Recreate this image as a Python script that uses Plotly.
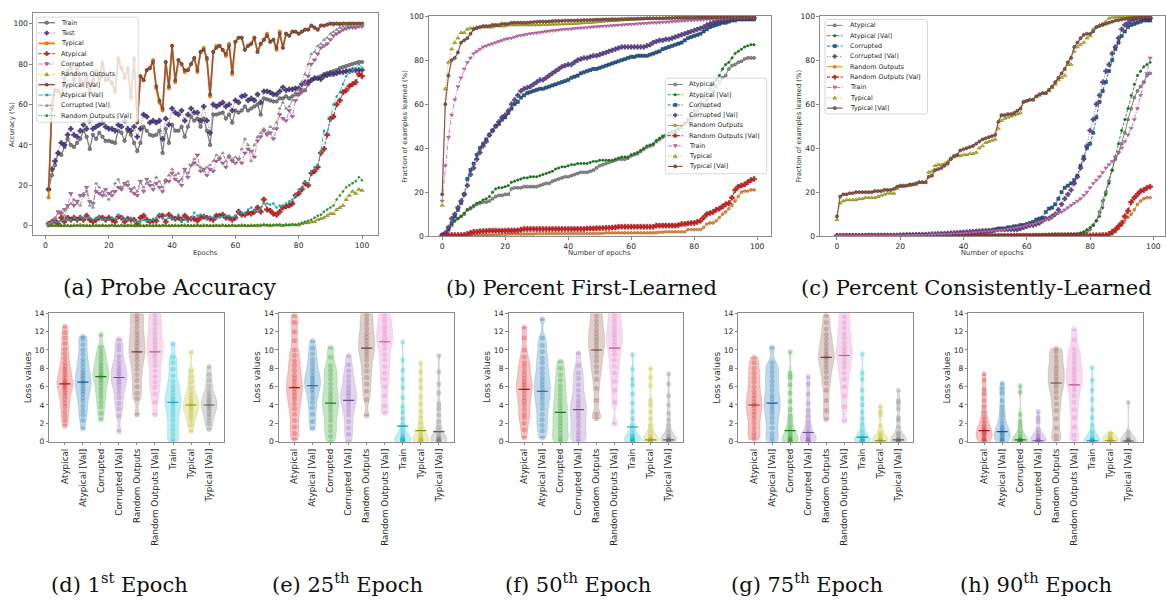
import plotly.graph_objects as go

W, H = 1166, 603

# ---------------- (a) Probe accuracy data (epochs 1..100) ----------------
epochs_a = list(range(1, 101))
train_a = [18, 25, 30, 36, 35, 39, 43, 40, 39, 41,
           43, 47, 44, 38, 45, 43, 46, 44, 42, 42,
           41.5, 41, 47, 46, 42, 47, 45, 41, 37, 41,
           49, 47, 45, 44.5, 45, 47, 36, 48, 41, 50,
           47, 47, 49, 44, 49, 54, 52, 53, 49, 53,
           47, 40, 55, 55, 55.5, 56, 53, 55, 51, 57,
           56, 57, 59, 57, 58, 59, 60, 55, 63, 62.5,
           62, 61.5, 61.5, 63, 63, 64, 63, 64, 65, 65,
           67, 67, 70, 72, 73, 73, 74, 75, 75.5, 76,
           76.5, 77, 78, 78.5, 79, 79.5, 80, 80.5, 81, 81]
test_a = [18, 28, 32, 36, 41, 40, 45, 48, 45, 44,
          47, 50, 48, 52, 48, 49, 50, 51, 49, 48,
          48, 47, 50, 49, 52, 48, 47, 49, 44, 48,
          55, 54, 51, 52, 51, 52, 43, 53, 50, 58,
          56, 55, 57, 52, 55, 58, 56, 56, 52, 59,
          52, 46, 60, 59, 60, 61, 59, 60, 57, 62,
          61, 64, 64.5, 62, 63, 62, 65, 61, 66.5, 66.5,
          66, 65, 65, 66.5, 68.5, 67, 67.5, 67.5, 68, 68,
          70, 71, 71, 72, 73, 73, 72.5, 74, 74.5, 75,
          75, 75.5, 76, 76, 76.5, 76.5, 77, 77, 77, 77]
typical_a = [14, 60, 67, 66, 65, 72, 77, 78, 73, 79,
             71, 69, 73, 66, 71, 77, 72, 81, 73, 72,
             70, 66, 83, 78, 74, 77, 63, 83, 52, 74,
             72, 77, 78, 82, 68, 61, 57, 81, 68, 89,
             71, 82, 80, 76, 77, 80, 83, 76, 86, 88,
             82, 64, 86, 89, 89, 87, 84, 90, 75, 91,
             93, 93, 87, 89, 90, 93, 86, 90, 92, 95,
             91, 92, 87, 96, 88, 95, 94, 96, 96, 95,
             96, 97, 97, 99, 98, 97, 99, 99, 99.5, 100,
             99.5, 100, 99.5, 100, 99.8, 100, 100, 100, 100, 100]
atypical_a = [1, 2, 2.5, 1, 4, 2, 4, 3, 4, 3,
              4, 3, 5, 3, 2, 3, 4, 4, 3, 4,
              3, 2, 4.5, 4, 2, 3.5, 3, 3, 1, 4,
              5, 3, 2, 2.5, 2.5, 5, 5, 2, 5.5, 4,
              3.5, 4, 3, 5, 3.5, 3.5, 3.5, 2.5, 4, 4.5,
              4, 3.5, 3, 5, 5, 5.5, 4, 4, 3, 4,
              7, 5.5, 5.5, 6.5, 6, 7, 9, 7, 13, 8,
              7.5, 6, 5.5, 7, 9, 9.5, 10, 11, 15, 16,
              18, 21, 20, 26, 27, 29, 36, 38, 45, 53,
              54, 60, 62, 66, 67, 69, 70, 71, 75, 74]
corrupted_a = [1, 1, 3, 7, 6, 8, 10, 16, 10, 12,
               15, 15, 19, 12, 11, 17, 16, 15, 18, 16,
               15, 17, 19, 18, 21, 20, 18, 16, 15, 22,
               17, 23, 20, 18, 21, 19, 17, 22, 22, 26,
               23, 22, 20, 28, 24, 30, 31, 35, 27, 28,
               25, 28, 27, 32, 33, 31, 29, 34, 32, 31,
               33, 31, 36, 38, 37, 34, 42, 44, 47, 45,
               46, 43, 48, 55, 53, 52, 57, 54, 62, 65,
               66, 70, 74, 80, 82, 85, 88, 89, 90, 92,
               94, 95, 96, 97, 97.5, 98, 98, 98, 98.5, 98.5]
random_a = [0, 0, 0.3, 0, 0, 0.2, 0, 0, 0.3, 0,
            0.5, 0, 0.2, 0, 0, 0.3, 0, 0.2, 0, 0,
            0.3, 0, 0, 0.2, 0, 0, 0.4, 0, 0, 0.2,
            0, 0, 0.3, 0, 0.2, 0, 0, 0.3, 0, 0,
            0.2, 0, 0, 0.3, 0, 0, 0.2, 0, 0, 0.3,
            0, 0, 0.2, 0, 0, 0.3, 0, 0, 0.2, 0,
            0, 0.3, 0, 0, 0.2, 0, 0, 0.3, 0.5, 0.2,
            0, 0.3, 0.4, 0.2, 0, 0.5, 0.3, 0.5, 0.5, 0.3,
            1, 1.5, 1.5, 2, 2, 3, 3.5, 4, 5, 6,
            6, 8, 9, 10, 13, 15, 17, 16, 18, 17.5]
typical_val_a = [18, 58, 67, 67, 64, 73, 76, 79, 72, 80,
                 72, 70, 74, 65, 72, 76, 73, 80, 72, 73,
                 71, 67, 82, 78, 73, 78, 64, 82, 51, 74,
                 72, 77, 78, 81, 69, 62, 58, 81, 69, 89,
                 72, 82, 80, 77, 77, 80, 83, 77, 86, 87,
                 83, 65, 86, 88, 89, 87, 85, 89, 76, 91,
                 93, 93, 87, 89, 90, 93, 86, 90, 92, 94,
                 91, 92, 88, 95, 88, 95, 94, 96, 96, 95,
                 96, 97, 97, 99, 98, 97, 99, 99, 99.5, 100,
                 100, 100, 100, 100, 100, 100, 100, 100, 100, 100]
atypical_val_a = [1, 1.5, 2, 2, 2.5, 3, 3.5, 3, 4, 3,
                  4.5, 3.5, 4, 4, 3, 3.5, 4, 3, 3.5, 3,
                  4, 3.5, 5.5, 4, 3.5, 3, 3.5, 2.5, 2, 2,
                  3, 2.5, 2.5, 3, 4, 5.5, 3.5, 5, 4, 3.5,
                  3.5, 5.5, 2, 3, 2, 3.5, 6.5, 5, 5.5, 5,
                  3.5, 4.5, 4, 3.5, 4.5, 4.5, 5, 5, 4, 5,
                  7, 6.5, 6, 8, 9, 7.5, 7, 9, 11, 11,
                  10.5, 11, 9, 10, 10, 11, 12, 13, 15, 18,
                  19, 22, 21, 27, 29, 30, 37, 47, 46, 52,
                  60, 64, 66, 70, 74, 76, 77, 78, 80, 78]
corrupted_val_a = [1, 2, 4, 6, 7, 5, 9, 11, 13, 11,
                   10, 16, 17, 10, 9, 21, 19, 17, 15, 13,
                   17, 21, 23, 19, 20, 22, 17, 19, 17, 22,
                   19, 21, 22, 20, 24, 22, 19, 23, 25, 28,
                   25, 26, 23, 27, 26, 30, 33, 30, 29, 27,
                   29, 30, 32, 35, 34, 36, 32, 35, 33, 34,
                   33, 38, 43, 40, 32, 40, 44, 46, 48, 46,
                   49, 48, 51, 58, 61, 58, 59, 62, 66, 67,
                   71, 75, 80, 85, 86, 89, 90, 92, 93, 95,
                   96, 97, 98, 98.5, 99, 99, 99, 99, 99, 99]
random_val_a = [0, 0.2, 0, 0.3, 0, 0, 0.2, 0, 0, 0.4,
                0, 0.2, 0, 0, 0.3, 0, 0, 0.2, 0, 0,
                0.3, 0, 0, 0.2, 0, 0.3, 0, 0, 0.2, 0,
                0, 0.3, 0, 0, 0.2, 0, 0.3, 0, 0, 0.2,
                0, 0, 0.3, 0, 0.2, 0, 0, 0.3, 0, 0,
                0.2, 0, 0, 0.3, 0, 0.2, 0, 0, 0.3, 0,
                0.2, 0, 0.3, 0, 0, 0.2, 0.4, 0, 0.5, 0.3,
                0.5, 0.3, 0.5, 0.6, 0.4, 0.5, 0.5, 0.8, 0.5, 1,
                1.5, 2, 2.5, 3, 4, 5, 5.5, 7, 8, 9,
                10, 13, 15, 17, 19, 20, 21, 22, 24, 22.5]

# ---------------- (b) Percent first-learned (epochs 0..99) ----------------
epochs_bc = list(range(0, 100))
atypical_b = [0.5, 1, 3, 5, 7, 8, 9, 10, 12, 12.5,
              13.5, 14.5, 15, 15.5, 15.5, 16, 17, 18, 18.5, 18.5,
              19, 19, 21.5, 22, 22, 22, 22.5, 22.5, 22.5, 22.5,
              22.5, 23, 23.5, 24, 24, 25, 25.5, 26, 26.5, 27,
              27, 27.5, 28, 28.5, 29, 29, 29, 29.5, 30, 31,
              32, 32.5, 33, 33.5, 34, 34.5, 35, 35, 35, 35.5,
              36.5, 37, 37.5, 38.5, 39.5, 40.5, 41, 41.5, 43, 44,
              45, 45.5, 46.5, 47, 47.5, 48.5, 49.5, 51, 52, 53.5,
              55, 57, 58.5, 60, 62, 64, 66, 68, 70, 72,
              73, 76, 77.5, 78, 79, 79.5, 80.5, 81, 81, 81]
atypical_val_b = [0.5, 1.5, 3.5, 5.5, 7, 8, 9, 10.5, 12, 13,
                  14, 15, 15.5, 16.5, 17, 18, 20, 21.5, 22, 22,
                  22.5, 23, 24.5, 25, 25.5, 26, 26.5, 26.5, 27, 27,
                  27, 27.5, 28, 28.5, 29, 29.5, 30.5, 31, 31.5, 31.5,
                  32, 32.5, 32.5, 33, 33, 33, 33, 33.5, 34, 34,
                  34.5, 34.5, 34.5, 34.5, 34.5, 35, 35.5, 36, 36, 36,
                  37, 37.5, 38, 39, 40, 41, 41.5, 42, 43.5, 44.5,
                  45.5, 46, 47, 47.5, 48, 49, 50, 51.5, 53, 55,
                  57, 59, 61, 63, 65, 67, 69, 71, 73, 76,
                  78, 79, 81, 83, 84, 85, 86, 86.5, 87, 87]
corrupted_b = [0.5, 1, 3, 6, 9, 12, 15, 19, 26, 30,
               33, 37, 40, 42, 44, 46, 48, 50, 51, 53,
               54, 56, 58, 60, 61, 63, 64, 65, 65.5, 66,
               66.5, 67, 67, 67.5, 68, 68.5, 69, 69.5, 70, 70.5,
               71, 72, 72.5, 73, 74, 74.5, 75, 75.5, 76, 76,
               76.5, 77, 77.5, 78, 78.5, 79, 79.5, 80, 80.5, 81,
               81.5, 81.5, 82, 82, 82, 82, 82.5, 83, 83.5, 84,
               85, 85.5, 86, 86.5, 87, 87.5, 88, 89, 90, 90.5,
               91, 91.5, 92, 93, 94, 95, 95.5, 96, 96.5, 97,
               97, 97.5, 98, 98, 98.5, 98.5, 98.5, 98.5, 98.5, 98.5]
corrupted_val_b = [0.5, 1.5, 4, 8, 10, 13, 16, 19, 23, 28,
                   31, 35, 38, 41, 43, 46, 48, 50, 52, 54,
                   55, 57, 60, 62, 64, 66, 67, 67.5, 68, 69,
                   70, 71, 71, 72, 73, 74, 75, 76, 77, 77.5,
                   78, 78, 79, 80, 80.5, 81, 81, 81.5, 82, 82,
                   82.5, 83, 83.5, 84, 84.5, 85, 85.5, 86, 86, 86,
                   86, 86, 86, 86, 86, 86.5, 87, 88, 88.5, 89,
                   89, 89.5, 89.5, 90, 90.5, 91, 91.5, 92, 92.5, 93,
                   93.5, 94, 94.5, 95, 96, 96.5, 97, 97.5, 98, 98,
                   98.5, 98.5, 99, 99, 99, 99, 99, 99, 99, 99]
random_b = [0, 0, 0, 0, 0, 0, 0, 0, 0.2, 0.3,
            0.4, 0.5, 0.5, 0.5, 0.5, 0.5, 0.5, 0.5, 0.6, 0.8,
            0.8, 1, 1, 1, 1, 1, 1, 1, 1, 1,
            1.2, 1.2, 1.2, 1.2, 1.2, 1.2, 1.2, 1.2, 1.2, 1.2,
            1.2, 1.2, 1.2, 1.2, 1.2, 1.2, 1.2, 1.2, 1.2, 1.2,
            1.2, 1.3, 1.5, 1.5, 1.5, 1.5, 1.5, 1.5, 1.5, 1.5,
            1.5, 1.5, 1.5, 1.5, 1.5, 1.5, 1.5, 1.5, 1.6, 1.8,
            1.8, 2, 2, 2, 2, 2, 2, 2, 3, 3,
            3, 3, 3, 4, 5.5, 6, 6, 7, 8.5, 10,
            11, 12.5, 14, 16, 18, 20, 20.5, 20.5, 21, 21]
random_val_b = [0, 0.3, 0.5, 0.5, 0.5, 0.5, 0.5, 0.6, 1, 1.5,
                2, 2, 2.2, 2.3, 2.3, 2.5, 2.5, 2.5, 2.5, 2.5,
                2.5, 2.6, 2.6, 2.6, 2.6, 3, 3.3, 3.3, 3.3, 3.3,
                3.3, 3.3, 3.3, 3.3, 3.3, 3.3, 3.3, 3.3, 3.3, 3.3,
                3.3, 3.3, 3.3, 3.3, 3.3, 3.3, 3.5, 3.5, 3.5, 3.6,
                3.6, 3.7, 3.8, 3.8, 3.9, 4, 4.3, 4.3, 4.3, 4.3,
                4.3, 4.3, 4.3, 4.3, 4.3, 4.3, 4.3, 4.3, 4.8, 4.8,
                4.8, 4.8, 4.8, 4.8, 4.8, 5, 5.5, 5.5, 5.8, 6,
                6, 6.5, 7, 8.5, 10, 10.5, 11, 12, 12.5, 13.5,
                14.5, 15, 17.5, 21, 22.5, 23, 23.5, 24.5, 25.5, 26]
train_b = [16, 32, 45, 55, 62, 68, 72, 76, 79, 81,
           83, 84, 85, 86, 86.5, 87, 87.5, 88, 88.5, 89,
           89.5, 89.8, 90, 90.5, 91, 91.2, 91.5, 91.8, 92, 92.2,
           92.4, 92.6, 92.8, 93, 93.2, 93.4, 93.5, 93.7, 93.9, 94,
           94.1, 94.2, 94.4, 94.5, 94.6, 94.7, 94.8, 95, 95.1, 95.2,
           95.3, 95.4, 95.5, 95.6, 95.7, 95.8, 95.9, 96, 96.1, 96.2,
           96.3, 96.4, 96.5, 96.6, 96.7, 96.8, 96.9, 97, 97, 97.1,
           97.2, 97.3, 97.4, 97.5, 97.6, 97.7, 97.8, 97.9, 98, 98,
           98.1, 98.2, 98.3, 98.4, 98.5, 98.5, 98.6, 98.7, 98.8, 98.8,
           98.9, 99, 99, 99, 99.1, 99.1, 99.1, 99.2, 99.2, 99.2]
typical_b = [14, 67, 79, 85, 88, 90, 92.5, 92.5, 94, 94.5,
             94.5, 95, 95, 95, 95, 95, 95, 95.5, 95.5, 95.5,
             95.5, 96, 96, 96, 96, 96, 96, 96, 96, 96,
             96, 96, 96.2, 96.2, 96.2, 96.3, 96.3, 96.4, 96.4, 96.5,
             96.5, 96.5, 96.6, 96.7, 96.8, 97, 97, 97.1, 97.2, 97.3,
             97.5, 97.6, 97.7, 97.8, 97.9, 98, 98.1, 98.2, 98.3, 98.4,
             98.5, 98.5, 98.6, 98.7, 98.8, 98.9, 99, 99, 99, 99,
             99, 99.1, 99.2, 99.3, 99.4, 99.5, 99.5, 99.5, 99.5, 99.5,
             99.5, 99.6, 99.6, 99.6, 99.6, 99.7, 99.7, 99.7, 99.7, 99.7,
             99.8, 99.8, 99.8, 99.8, 99.8, 99.8, 99.8, 99.8, 99.8, 99.8]
typical_val_b = [19, 60, 73, 80, 81, 83.5, 88, 89, 90, 92,
                 94, 94.5, 95, 95.5, 95.5, 95.5, 96, 96, 96, 96.5,
                 96.5, 96.5, 97, 97, 97, 97, 97, 97, 97.2, 97.3,
                 97.4, 97.5, 97.5, 97.5, 97.6, 97.7, 97.8, 97.8, 97.9, 98,
                 98, 98, 98, 98.1, 98.1, 98.2, 98.2, 98.3, 98.3, 98.4,
                 98.4, 98.5, 98.5, 98.5, 98.6, 98.6, 98.6, 98.7, 98.7, 98.8,
                 98.8, 98.8, 98.9, 98.9, 98.9, 99, 99, 99, 99, 99,
                 99, 99.1, 99.1, 99.1, 99.2, 99.2, 99.2, 99.3, 99.3, 99.3,
                 99.3, 99.4, 99.4, 99.4, 99.4, 99.4, 99.5, 99.5, 99.5, 99.5,
                 99.5, 99.5, 99.5, 99.5, 99.5, 99.6, 99.6, 99.6, 99.6, 99.6]

# ---------------- (c) Percent consistently-learned (epochs 0..99) ----------------
atypical_c = [0, 0, 0, 0, 0, 0, 0, 0, 0, 0,
              0, 0, 0, 0.1, 0.1, 0.1, 0.1, 0.1, 0.1, 0.1,
              0.1, 0.1, 0.1, 0.2, 0.2, 0.2, 0.2, 0.2, 0.2, 0.2,
              0.3, 0.3, 0.3, 0.3, 0.3, 0.3, 0.3, 0.3, 0.3, 0.3,
              0.4, 0.4, 0.4, 0.4, 0.4, 0.4, 0.4, 0.4, 0.4, 0.4,
              0.5, 0.5, 0.5, 0.5, 0.5, 0.5, 0.5, 0.5, 0.5, 0.5,
              0.6, 0.6, 0.6, 0.6, 0.6, 0.7, 0.7, 0.8, 0.9, 1,
              1, 1, 1, 1, 1, 1, 1, 1.2, 1.5, 2,
              3, 5, 7, 11, 16, 20, 25, 30, 35, 38,
              42, 47, 53, 58, 63, 66, 68, 70, 73, 74]
atypical_val_c = [0, 0, 0, 0, 0, 0, 0, 0, 0, 0,
                  0, 0, 0, 0, 0, 0, 0, 0, 0, 0,
                  0, 0, 0, 0, 0, 0, 0, 0, 0, 0.1,
                  0.1, 0.1, 0.1, 0.1, 0.1, 0.1, 0.1, 0.1, 0.1, 0.1,
                  0.2, 0.2, 0.2, 0.2, 0.2, 0.2, 0.2, 0.2, 0.2, 0.2,
                  0.3, 0.3, 0.3, 0.3, 0.3, 0.3, 0.3, 0.3, 0.3, 0.3,
                  0.4, 0.4, 0.4, 0.4, 0.4, 0.4, 0.4, 0.5, 0.5, 0.5,
                  0.5, 0.5, 0.6, 0.6, 0.7, 0.8, 1, 1.5, 2, 3,
                  4, 5, 7, 9, 13, 19, 24, 30, 36, 42,
                  48, 53, 58, 64, 69, 73, 75, 77, 78, 79]
corrupted_c = [0.1, 0.1, 0.1, 0.1, 0.1, 0.1, 0.1, 0.1, 0.1, 0.1,
               0.2, 0.2, 0.2, 0.2, 0.2, 0.2, 0.2, 0.2, 0.2, 0.2,
               0.3, 0.3, 0.3, 0.4, 0.4, 0.4, 0.4, 0.5, 0.5, 0.5,
               0.6, 0.6, 0.7, 0.7, 0.8, 0.9, 1, 1, 1.1, 1.2,
               1.3, 1.4, 1.5, 1.6, 1.7, 1.8, 1.9, 2, 2.1, 2.2,
               3, 3.5, 3.5, 3.5, 4, 4, 4.5, 4.5, 5, 5,
               5.5, 6, 6.5, 7.5, 8, 8.5, 11, 12.5, 13, 14.5,
               17, 20, 22, 23, 24, 25.5, 27.5, 32, 36, 40,
               42, 47, 54, 61, 66, 70, 75, 80, 85, 88,
               91, 93, 95, 96, 96.5, 97, 97.5, 98, 98, 98]
corrupted_val_c = [0.3, 0.3, 0.3, 0.3, 0.3, 0.3, 0.3, 0.3, 0.3, 0.3,
                   0.4, 0.4, 0.4, 0.4, 0.4, 0.4, 0.4, 0.4, 0.4, 0.4,
                   0.5, 0.5, 0.6, 0.6, 0.6, 0.7, 0.7, 0.8, 0.8, 0.9,
                   1, 1, 1.1, 1.1, 1.2, 1.3, 1.4, 1.5, 1.6, 1.7,
                   1.8, 1.9, 2, 2.1, 2.2, 2.3, 2.4, 2.5, 2.6, 2.7,
                   2.8, 3, 3, 3, 3, 3, 3, 3, 3.5, 4,
                   4.5, 5, 5, 5.5, 6, 7, 8, 8, 9, 10,
                   12, 14.5, 17, 19, 21, 24, 27, 31, 35, 41,
                   48, 53, 60, 64, 70, 75, 78, 83, 86, 90,
                   94, 96, 97, 98, 98.5, 99, 99, 99, 99, 99]
random_c = [0, 0, 0, 0, 0, 0, 0, 0, 0, 0,
            0, 0, 0, 0, 0, 0, 0, 0, 0, 0,
            0, 0, 0, 0, 0, 0, 0, 0, 0, 0,
            0, 0, 0, 0, 0, 0, 0, 0, 0, 0,
            0, 0, 0, 0, 0, 0, 0, 0, 0, 0,
            0, 0, 0, 0, 0, 0, 0, 0, 0, 0,
            0, 0, 0, 0, 0, 0, 0, 0, 0, 0,
            0, 0, 0, 0, 0, 0, 0, 0, 0, 0,
            0, 0, 0, 0, 0, 0, 0.5, 1, 2, 3.5,
            5, 7, 8.5, 10, 12, 14.5, 16, 17, 17.5, 17.5]
random_val_c = [0, 0, 0, 0, 0, 0, 0, 0, 0, 0,
                0, 0, 0, 0, 0, 0, 0, 0, 0, 0,
                0, 0, 0, 0, 0, 0, 0, 0, 0, 0,
                0, 0, 0, 0, 0, 0, 0, 0, 0, 0,
                0, 0, 0, 0, 0, 0, 0, 0, 0, 0,
                0, 0, 0, 0, 0, 0.1, 0.1, 0.1, 0.1, 0.1,
                0.1, 0.1, 0.1, 0.1, 0.1, 0.1, 0.1, 0.1, 0.1, 0.1,
                0.1, 0.1, 0.1, 0.2, 0.2, 0.2, 0.2, 0.2, 0.2, 0.3,
                0.3, 0.4, 0.4, 0.4, 0.5, 0.5, 1, 2, 3, 4.5,
                6, 9, 11.5, 15.5, 17.5, 19, 20.5, 21, 22, 22.5]
train_c = [0.2, 0.2, 0.2, 0.2, 0.2, 0.2, 0.2, 0.2, 0.2, 0.2,
           0.3, 0.3, 0.3, 0.3, 0.3, 0.3, 0.3, 0.3, 0.3, 0.3,
           0.4, 0.4, 0.4, 0.5, 0.5, 0.5, 0.6, 0.6, 0.6, 0.7,
           0.8, 0.8, 0.9, 0.9, 1, 1, 1.1, 1.2, 1.2, 1.3,
           1.4, 1.5, 1.6, 1.7, 1.8, 1.9, 2, 2.1, 2.2, 2.4,
           2.5, 2.7, 2.9, 3.1, 3.3, 3.5, 3.7, 4, 4.2, 4.5,
           5, 5.3, 5.5, 6, 6.5, 7, 7.5, 8, 9, 10,
           10.5, 11, 12, 13, 14, 15, 16, 17, 18.5, 20,
           22, 24, 25.5, 27, 29, 31, 32.5, 34, 36, 38,
           40, 43, 46, 49, 53, 58, 64, 70, 74, 81]
typical_c = [7.5, 15, 16, 16.5, 16.5, 16.5, 16.5, 17, 17, 17.5,
             17.5, 17.5, 17.5, 18, 18.5, 19, 19.5, 19.5, 19.5, 21.5,
             22.5, 22.5, 23, 23, 23.5, 23.5, 24.5, 24.5, 24.5, 29,
             29.5, 32, 32.5, 32.5, 33, 34, 35.5, 36, 36.5, 36.5,
             37, 37, 37.5, 37.5, 38, 40, 41, 42.5, 43, 43.5,
             44, 49, 52.5, 53.5, 54, 54.5, 55, 55.5, 56, 61,
             61.5, 62, 62, 63.5, 64, 65, 65, 66, 67.5, 69,
             71, 72, 73, 78, 78, 84, 86, 87, 88, 90,
             91, 94, 95, 96, 96.5, 97.5, 99, 99.5, 99.5, 99.7,
             99.8, 99.8, 99.8, 99.9, 99.9, 99.9, 100, 100, 100, 100]
typical_val_c = [9, 18, 19, 19, 19.5, 19.5, 20, 20, 20, 20,
                 20, 20, 20.5, 20.5, 20.5, 21, 21, 21, 21.5, 22.5,
                 23, 23, 23, 23.5, 23.5, 24, 24.5, 24.5, 24.5, 27,
                 27.5, 30, 30.5, 31, 32, 33, 35, 36.5, 37, 39,
                 39.5, 40, 40.5, 41, 42, 43, 44, 44.5, 45, 45.5,
                 46, 52, 55, 55, 55.5, 55.5, 56, 57, 58, 61,
                 61.5, 62, 62, 63.5, 64.5, 65, 65, 66.5, 68, 70,
                 72, 74, 76, 79, 81, 86, 88, 90, 91.5, 92,
                 92, 93, 95, 95.5, 96, 96.5, 97, 97.5, 98, 98.2,
                 98.5, 98.7, 99, 99, 99.2, 99.3, 99.4, 99.5, 99.5, 99.5]

# ---------------- (d)-(h) loss distributions ----------------
violin_categories = ["Atypical", "Atypical [Val]", "Corrupted", "Corrupted [Val]",
                     "Random Outputs", "Random Outputs [Val]", "Train", "Typical", "Typical [Val]"]
loss_epoch1 = [
    [1.7, 2.3, 2.8, 3.3, 3.8, 4.2, 4.6, 5.0, 5.3, 5.6, 5.9, 6.1, 6.3, 6.5, 6.7, 7.0, 7.3, 7.6, 7.9, 8.2, 8.6, 9.1, 9.6, 10.1, 10.7, 11.3, 11.9, 12.6],
    [1.4, 2.3, 2.9, 3.4, 3.9, 4.4, 4.8, 5.2, 5.5, 5.8, 6.1, 6.4, 6.6, 6.9, 7.2, 7.5, 7.8, 8.2, 8.6, 9.0, 9.5, 10.0, 10.6, 11.2, 11.5],
    [2.4, 3.1, 3.8, 4.3, 4.8, 5.2, 5.6, 6.0, 6.4, 6.7, 7.0, 7.2, 7.4, 7.7, 8.0, 8.3, 8.6, 9.0, 9.4, 9.8, 10.3, 11.7],
    [1.1, 2.8, 3.6, 4.2, 4.8, 5.3, 5.8, 6.2, 6.5, 6.8, 7.1, 7.4, 7.7, 8.0, 8.4, 8.8, 9.3, 10.0, 10.5, 11.2],
    [2.9, 4.7, 5.3, 6.0, 6.7, 7.3, 7.9, 8.4, 8.9, 9.3, 9.7, 10.0, 10.4, 10.8, 11.2, 11.6, 12.0, 12.5, 13.0, 13.4, 13.8, 14.3, 15.0],
    [2.9, 4.3, 5.2, 5.9, 6.5, 7.1, 7.7, 8.3, 8.8, 9.3, 9.7, 10.1, 10.5, 10.9, 11.3, 11.8, 12.3, 12.8, 13.3, 13.8, 14.4, 15.0],
    [0.0, 0.3, 0.8, 1.3, 1.8, 2.3, 2.8, 3.2, 3.6, 4.0, 4.3, 4.6, 4.9, 5.3, 5.7, 6.1, 6.6, 7.2, 7.9, 8.6, 9.2, 10.7],
    [1.1, 1.8, 2.3, 2.7, 3.0, 3.3, 3.6, 3.8, 4.0, 4.2, 4.4, 4.7, 5.0, 5.4, 5.9, 6.5, 7.1, 7.7, 9.8],
    [1.3, 1.9, 2.3, 2.7, 3.0, 3.3, 3.6, 3.8, 4.0, 4.2, 4.4, 4.6, 4.9, 5.2, 5.6, 6.1, 6.7, 7.3, 8.2]]
loss_epoch25 = [
    [0.2, 0.9, 1.6, 2.3, 3.0, 3.6, 4.1, 4.6, 5.0, 5.4, 5.8, 6.1, 6.5, 6.9, 7.3, 7.8, 8.3, 8.8, 9.4, 10.0, 11.0, 12.0, 13.0, 13.8],
    [1.4, 2.2, 3.0, 3.7, 4.3, 4.8, 5.3, 5.7, 6.0, 6.3, 6.6, 6.9, 7.2, 7.6, 8.0, 8.5, 9.0, 9.6, 10.2, 11.0],
    [0.0, 0.6, 1.2, 1.7, 2.3, 2.8, 3.3, 3.7, 4.1, 4.5, 4.9, 5.3, 5.8, 6.3, 6.8, 7.3, 7.8, 8.3, 9.2, 10.3],
    [0.0, 0.8, 1.5, 2.2, 2.9, 3.4, 3.9, 4.3, 4.6, 5.0, 5.3, 5.7, 6.1, 6.6, 7.1, 7.7, 8.4, 9.4],
    [2.8, 4.6, 5.5, 6.3, 7.0, 7.7, 8.3, 8.9, 9.4, 9.8, 10.2, 10.6, 11.0, 11.4, 11.8, 12.3, 12.8, 13.3, 13.8, 14.4, 15.0],
    [3.1, 3.9, 5.0, 6.0, 6.8, 7.5, 8.2, 8.9, 9.5, 10.1, 10.6, 11.0, 11.4, 11.8, 12.2, 12.6, 13.1, 13.6, 14.1, 14.8, 15.5],
    [0.0, 0.0, 0.05, 0.1, 0.1, 0.15, 0.2, 0.25, 0.3, 0.4, 0.5, 0.7, 1.0, 1.4, 1.9, 2.5, 3.2, 3.8, 4.8, 5.9, 6.8, 7.8, 8.9, 10.9],
    [0.0, 0.0, 0.05, 0.1, 0.15, 0.2, 0.3, 0.4, 0.6, 0.8, 1.1, 1.5, 2.0, 2.6, 3.3, 4.1, 4.9, 5.9, 6.7, 7.6, 8.6],
    [0.0, 0.0, 0.05, 0.1, 0.15, 0.2, 0.3, 0.4, 0.6, 0.9, 1.2, 1.6, 2.2, 2.9, 3.6, 4.1, 5.3, 6.3, 7.6, 9.4]]
loss_epoch50 = [
    [0.4, 1.3, 2.0, 2.6, 3.0, 3.5, 4.0, 4.4, 4.8, 5.2, 5.6, 5.9, 6.2, 6.5, 6.9, 7.3, 7.7, 8.2, 8.6, 9.2, 10.0, 11.3, 12.5],
    [0.4, 1.2, 1.8, 2.4, 3.0, 3.6, 4.1, 4.6, 5.0, 5.4, 5.8, 6.2, 6.6, 7.0, 7.5, 8.0, 8.6, 9.1, 9.8, 10.5, 11.3, 13.4],
    [0.0, 0.2, 0.5, 0.9, 1.3, 1.7, 2.1, 2.5, 2.9, 3.3, 3.7, 4.1, 4.6, 5.1, 5.6, 6.1, 6.7, 7.3, 8.0, 8.8],
    [0.0, 0.3, 0.7, 1.1, 1.6, 2.0, 2.5, 2.9, 3.3, 3.7, 4.1, 4.5, 5.0, 5.6, 6.2, 6.9, 7.5, 8.3, 9.7],
    [2.5, 3.0, 4.5, 5.8, 6.8, 7.6, 8.2, 8.8, 9.3, 9.8, 10.2, 10.6, 11.0, 11.4, 11.8, 12.2, 12.7, 13.2, 13.7, 14.3, 15.0],
    [1.9, 4.3, 5.6, 6.6, 7.5, 8.2, 8.9, 9.5, 10.0, 10.5, 10.9, 11.3, 11.7, 12.1, 12.6, 13.1, 13.6, 14.1, 14.8, 15.5],
    [0.0, 0.0, 0.05, 0.1, 0.1, 0.15, 0.2, 0.25, 0.3, 0.4, 0.5, 0.7, 0.9, 1.3, 1.8, 2.5, 3.3, 4.2, 5.2, 6.2, 6.8, 7.9, 9.5],
    [0.0, 0.0, 0.0, 0.02, 0.05, 0.08, 0.1, 0.15, 0.2, 0.3, 0.4, 0.6, 0.9, 1.3, 1.8, 2.5, 3.2, 4.0, 4.5, 6.1, 7.0, 8.0],
    [0.0, 0.0, 0.0, 0.02, 0.05, 0.08, 0.1, 0.15, 0.2, 0.3, 0.4, 0.6, 0.9, 1.3, 1.8, 2.4, 3.1, 4.0, 5.0, 6.3, 7.4]]
loss_epoch75 = [
    [0.2, 0.6, 1.0, 1.5, 2.0, 2.5, 2.9, 3.3, 3.7, 4.0, 4.3, 4.7, 5.1, 5.5, 6.0, 6.5, 7.0, 7.5, 8.0, 8.6, 9.2],
    [0.0, 0.4, 0.9, 1.5, 2.1, 2.6, 3.1, 3.5, 3.9, 4.3, 4.7, 5.1, 5.6, 6.1, 6.6, 7.1, 7.6, 8.1, 8.6, 10.3],
    [0.0, 0.0, 0.05, 0.1, 0.2, 0.3, 0.4, 0.6, 0.8, 1.1, 1.4, 1.8, 2.3, 2.8, 3.5, 4.4, 5.3, 6.2, 7.0, 7.4, 9.8],
    [0.0, 0.0, 0.05, 0.1, 0.2, 0.3, 0.4, 0.6, 0.8, 1.0, 1.3, 1.7, 2.2, 2.8, 3.4, 4.2, 5.2, 6.3, 7.1],
    [2.4, 3.4, 4.5, 5.6, 6.4, 7.0, 7.6, 8.1, 8.5, 8.9, 9.2, 9.5, 9.9, 10.3, 10.7, 11.2, 11.7, 12.3, 13.0, 13.8],
    [2.2, 3.8, 5.0, 6.0, 6.8, 7.5, 8.1, 8.6, 9.1, 9.5, 9.9, 10.3, 10.8, 11.3, 11.8, 12.4, 13.0, 13.6, 14.3, 15.0],
    [0.0, 0.0, 0.0, 0.02, 0.05, 0.08, 0.1, 0.15, 0.2, 0.3, 0.4, 0.6, 0.9, 1.3, 1.9, 2.5, 3.2, 4.0, 4.7, 5.6, 6.8, 7.5, 9.6],
    [0.0, 0.0, 0.0, 0.01, 0.02, 0.04, 0.06, 0.1, 0.15, 0.2, 0.3, 0.5, 0.7, 1.0, 1.7, 2.9, 3.3, 3.9],
    [0.0, 0.0, 0.0, 0.01, 0.02, 0.04, 0.06, 0.1, 0.15, 0.2, 0.3, 0.5, 0.8, 1.0, 1.6, 2.3, 2.6, 3.6, 4.2, 4.5, 5.6]]
loss_epoch90 = [
    [0.0, 0.1, 0.2, 0.3, 0.5, 0.7, 0.9, 1.0, 1.1, 1.3, 1.5, 1.7, 2.0, 2.3, 2.7, 3.2, 3.8, 4.5, 5.2, 5.7, 6.7, 7.4],
    [0.0, 0.1, 0.2, 0.3, 0.5, 0.7, 0.9, 1.0, 1.2, 1.4, 1.6, 1.9, 2.3, 2.8, 3.3, 3.8, 4.5, 5.3, 5.8, 6.4],
    [0.0, 0.0, 0.0, 0.01, 0.02, 0.04, 0.06, 0.1, 0.15, 0.2, 0.3, 0.5, 0.8, 1.2, 1.7, 2.2, 3.0, 5.4, 6.1],
    [0.0, 0.0, 0.0, 0.01, 0.02, 0.04, 0.06, 0.1, 0.15, 0.2, 0.3, 0.5, 0.7, 0.9, 1.3, 2.2, 2.6, 3.3],
    [0.1, 0.6, 1.5, 2.5, 3.4, 4.1, 4.8, 5.4, 5.9, 6.3, 6.7, 7.1, 7.5, 7.9, 8.3, 8.8, 9.3, 9.8, 10.2],
    [0.1, 0.7, 1.6, 2.6, 3.5, 4.3, 5.0, 5.6, 6.1, 6.5, 6.9, 7.3, 7.7, 8.1, 8.6, 9.1, 9.6, 10.1, 11.1, 12.3],
    [0.0, 0.0, 0.0, 0.0, 0.01, 0.02, 0.04, 0.06, 0.1, 0.15, 0.2, 0.3, 0.5, 0.8, 1.2, 1.8, 2.6, 3.5, 4.6, 5.6, 6.7, 8.1],
    [0.0, 0.0, 0.0, 0.01, 0.02, 0.03, 0.05, 0.08, 0.1, 0.15, 0.2, 0.3, 0.4, 0.6, 0.8, 1.0],
    [0.0, 0.0, 0.0, 0.0, 0.01, 0.02, 0.03, 0.05, 0.08, 0.1, 0.15, 0.2, 0.3, 0.5, 1.0, 4.3]]
mean_epoch1 = [6.3, 6.5, 7.1, 7.0, 9.8, 9.8, 4.3, 4.0, 4.0]
mean_epoch25 = [5.9, 6.1, 4.2, 4.5, 10.2, 10.9, 1.7, 1.2, 1.1]
mean_epoch50 = [5.7, 5.5, 3.2, 3.5, 10.0, 10.2, 1.6, 0.2, 0.2]
mean_epoch75 = [4.0, 4.2, 1.2, 1.0, 9.2, 9.4, 0.5, 0.1, 0.2]
mean_epoch90 = [1.2, 1.1, 0.2, 0.1, 6.4, 6.2, 0.1, 0.1, 0.05]

# ---------------- styles ----------------
DASH = {"solid": "solid", "dash": "3px,1.6px", "dot": "1px,1.6px", "dashdot": "4.5px,1.5px,1px,1.5px"}

series_a = [
    ("Train", train_a, dict(color="#7f7f7f", dash="solid", width=1.3, symbol="circle", msize=3.6, mcolor="#7f7f7f", medge="#404040")),
    ("Test", test_a, dict(color="#9467bd", dash="dot", width=1, symbol="cross", msize=4, mcolor="#54438a", medge="#2f2550")),
    ("Typical", typical_a, dict(color="#ff7f0e", dash="solid", width=1.9, symbol="circle", msize=3.2, mcolor="#ff7f0e", medge="#a04d00")),
    ("Atypical", atypical_a, dict(color="#d62728", dash="dash", width=1, symbol="cross", msize=4.2, mcolor="#d62728", medge="#7a1414")),
    ("Corrupted", corrupted_a, dict(color="#e377c2", dash="dashdot", width=1, symbol="triangle-down", msize=4, mcolor="#b565a0", medge="#7a3f6c")),
    ("Random Outputs", random_a, dict(color="#bcbd22", dash="dot", width=1, symbol="triangle-up", msize=3.6, mcolor="#bcbd22", medge="#5a5a0c")),
    ("Typical [Val]", typical_val_a, dict(color="#8c564b", dash="solid", width=1.4, symbol="circle", msize=3.2, mcolor="#8c564b", medge="#4a2a24")),
    ("Atypical [Val]", atypical_val_a, dict(color="#17becf", dash="dashdot", width=1, symbol="circle", msize=2, mcolor="#17becf", medge="#0e7c87")),
    ("Corrupted [Val]", corrupted_val_a, dict(color="#8f8f8f", dash="dashdot", width=0.9, symbol="triangle-up", msize=2.8, mcolor="#a0a0a0", medge="#707070")),
    ("Random Outputs [Val]", random_val_a, dict(color="#2ca02c", dash="dot", width=1, symbol="circle", msize=2, mcolor="#2ca02c", medge="#1a6b1a")),
]

STYLE_BC = {
    "Atypical": dict(color="#7f7f7f", dash="solid", width=1, symbol="circle", msize=3.2, mcolor="#8a8a8a", medge="#505050"),
    "Atypical [Val]": dict(color="#2ca02c", dash="dash", width=1, symbol="circle", msize=2.4, mcolor="#1f6b1f", medge="#1f6b1f"),
    "Corrupted": dict(color="#1f77b4", dash="dash", width=1, symbol="square", msize=3.2, mcolor="#2a5d8a", medge="#1b3550"),
    "Corrupted [Val]": dict(color="#9467bd", dash="dot", width=1, symbol="cross", msize=3.8, mcolor="#6b4d94", medge="#3a2860"),
    "Random Outputs": dict(color="#ff7f0e", dash="solid", width=1, symbol="circle", msize=2.8, mcolor="#e8934a", medge="#8a4a10"),
    "Random Outputs [Val]": dict(color="#d62728", dash="dash", width=1.3, symbol="cross", msize=4.2, mcolor="#d62728", medge="#8b1a1a"),
    "Train": dict(color="#e377c2", dash="dashdot", width=1, symbol="triangle-down", msize=3.6, mcolor="#c070b0", medge="#8a4a80"),
    "Typical": dict(color="#bcbd22", dash="dot", width=1, symbol="triangle-up", msize=3.6, mcolor="#bcbd22", medge="#6b6b10"),
    "Typical [Val]": dict(color="#8c564b", dash="solid", width=1.2, symbol="circle", msize=3.2, mcolor="#8c564b", medge="#4a2a24"),
}
series_b = [("Atypical", atypical_b), ("Atypical [Val]", atypical_val_b), ("Corrupted", corrupted_b),
            ("Corrupted [Val]", corrupted_val_b), ("Random Outputs", random_b), ("Random Outputs [Val]", random_val_b),
            ("Train", train_b), ("Typical", typical_b), ("Typical [Val]", typical_val_b)]
series_c = [("Atypical", atypical_c), ("Atypical [Val]", atypical_val_c), ("Corrupted", corrupted_c),
            ("Corrupted [Val]", corrupted_val_c), ("Random Outputs", random_c), ("Random Outputs [Val]", random_val_c),
            ("Train", train_c), ("Typical", typical_c), ("Typical [Val]", typical_val_c)]

violin_colors = ["#d62728", "#1f77b4", "#2ca02c", "#9467bd", "#8c564b", "#e377c2", "#17becf", "#bcbd22", "#7f7f7f"]
violin_dark = ["#a31d1e", "#175a88", "#207820", "#6f4d8e", "#6a4038", "#b05a96", "#11909d", "#8e8f19", "#5f5f5f"]


def rgba(hx, a):
    hx = hx.lstrip("#")
    r, g, b = int(hx[0:2], 16), int(hx[2:4], 16), int(hx[4:6], 16)
    return f"rgba({r},{g},{b},{a})"


def px(x):
    return x / W


def py(y):
    return 1 - y / H


def dom_x(x0, x1):
    return [x0 / W, min(x1 / W, 1.0)]


def dom_y(y0, y1):
    return [1 - y1 / H, 1 - y0 / H]


fig = go.Figure()


def add_line(name, xs, ys, st, ax):
    fig.add_trace(go.Scatter(
        x=xs, y=ys, name=name, mode="lines+markers", showlegend=False,
        xaxis="x" + ax, yaxis="y" + ax,
        line=dict(color=st["color"], width=st["width"], dash=DASH[st["dash"]]),
        marker=dict(symbol=st["symbol"], size=st["msize"], color=st["mcolor"],
                    line=dict(color=st["medge"], width=0.5))))


for name, ys, st in series_a:
    add_line(name, epochs_a, ys, st, "")
for name, ys in series_b:
    add_line(name, epochs_bc, ys, STYLE_BC[name], "2")
for name, ys in series_c:
    add_line(name, epochs_bc, ys, STYLE_BC[name], "3")

loss_sets = [loss_epoch1, loss_epoch25, loss_epoch50, loss_epoch75, loss_epoch90]
mean_sets = [mean_epoch1, mean_epoch25, mean_epoch50, mean_epoch75, mean_epoch90]
for p, (samples, means) in enumerate(zip(loss_sets, mean_sets)):
    ax = str(4 + p)
    for c, cat in enumerate(violin_categories):
        s = samples[c]
        fig.add_trace(go.Violin(
            x=[cat] * len(s), y=s, xaxis="x" + ax, yaxis="y" + ax, showlegend=False,
            fillcolor=rgba(violin_colors[c], 0.28), line=dict(color=rgba(violin_colors[c], 0.35), width=0.5),
            points="all", jitter=0, pointpos=0,
            marker=dict(color=violin_colors[c], opacity=0.3, size=5, line=dict(width=0)),
            width=0.9, scalemode="width", spanmode="hard", bandwidth=0.55, hoverinfo="skip"))
    fig.add_trace(go.Scatter(
        x=violin_categories, y=means, mode="markers", xaxis="x" + ax, yaxis="y" + ax, showlegend=False,
        marker=dict(symbol="line-ew", size=8, line=dict(width=1.2, color=violin_dark))))

# ---------------- axes ----------------
TICKFONT = dict(family="DejaVu Sans", size=7.6, color="#262626")
common = dict(showline=True, mirror=True, linecolor="#8c8c8c", linewidth=1, ticks="outside", ticklen=2.5,
              tickwidth=0.8, tickcolor="#666666", showgrid=False, zeroline=False, tickfont=TICKFONT, fixedrange=True)

layout = dict(width=W, height=H, margin=dict(l=0, r=0, t=0, b=0), autosize=False,
              paper_bgcolor="white", plot_bgcolor="white", violinmode="overlay", showlegend=False)

layout["xaxis"] = dict(common, domain=dom_x(33, 378), range=[-3.95, 104.95], tickvals=[0, 20, 40, 60, 80, 100], anchor="y")
layout["yaxis"] = dict(common, domain=dom_y(9, 235), range=[-4.8, 105.3], tickvals=[0, 20, 40, 60, 80, 100], anchor="x")
layout["xaxis2"] = dict(common, domain=dom_x(429.3, 771.7), range=[-4.2, 104.4], tickvals=[0, 20, 40, 60, 80, 100], anchor="y2")
layout["yaxis2"] = dict(common, domain=dom_y(12.3, 235.7), range=[0, 100], tickvals=[0, 20, 40, 60, 80, 100], anchor="x2")
layout["xaxis3"] = dict(common, domain=dom_x(820.7, 1166), range=[-5.37, 103.7], tickvals=[0, 20, 40, 60, 80, 100], anchor="y3")
layout["yaxis3"] = dict(common, domain=dom_y(12.3, 235.7), range=[0, 100], tickvals=[0, 20, 40, 60, 80, 100], anchor="x3")

bottom_x = [(49.3, 224), (279, 454), (509, 684), (739, 914), (969.3, 1144)]
for p, (x0, x1) in enumerate(bottom_x):
    n = str(4 + p)
    layout["xaxis" + n] = dict(common, domain=dom_x(x0, x1), type="category", categoryorder="array",
                               categoryarray=violin_categories, range=[-0.87, 8.82], tickangle=-90,
                               tickfont=dict(family="DejaVu Sans", size=8.8, color="#262626"), anchor="y" + n)
    layout["yaxis" + n] = dict(common, domain=dom_y(314, 444.3), range=[0, 14],
                               tickvals=[0, 2, 4, 6, 8, 10, 12, 14], anchor="x" + n)

shapes = []
annotations = []


def text(t, x, y, size, family="DejaVu Sans", color="#333333", angle=0, xanchor="center"):
    annotations.append(dict(text=t, x=px(x), y=py(y), xref="paper", yref="paper", showarrow=False,
                            xanchor=xanchor, yanchor="middle", textangle=angle,
                            font=dict(family=family, size=size, color=color)))


# axis titles
text("Epochs", 205.5, 252.5, 6.8)
text("Accuracy (%)", 12, 122, 6.8, angle=-90)
text("Number of epochs", 600, 252.5, 6.8)
text("Fraction of examples learned (%)", 405, 124, 6.8, angle=-90)
text("Number of epochs", 993, 252.5, 6.8)
text("Fraction of examples learned (%)", 800, 124, 6.8, angle=-90)
for lx in [28, 258, 488, 718, 948]:
    text("Loss values", lx, 379, 9, angle=-90)

# captions
CAP = "DejaVu Serif"
for t, x, s in [("(a) Probe Accuracy", 170, 22), ("(b) Percent First-Learned", 582, 21),
                ("(c) Percent Consistently-Learned", 977, 21)]:
    text(t, x, 288, s, family=CAP, color="#111111")
for t, x in [("(d) 1<sup>st</sup> Epoch", 120), ("(e) 25<sup>th</sup> Epoch", 348), ("(f) 50<sup>th</sup> Epoch", 578),
             ("(g) 75<sup>th</sup> Epoch", 808), ("(h) 90<sup>th</sup> Epoch", 1037)]:
    text(t, x, 588, 21, family=CAP, color="#111111")


# ---------------- legends (drawn as layout decorations) ----------------
def fmt(x, y):
    return f"{px(x):.5f},{py(y):.5f}"


def rounded_box(x0, y0, x1, y1, r=2.5):
    path = ("M " + fmt(x0 + r, y0) + " L " + fmt(x1 - r, y0) + " Q " + fmt(x1, y0) + " " + fmt(x1, y0 + r) +
            " L " + fmt(x1, y1 - r) + " Q " + fmt(x1, y1) + " " + fmt(x1 - r, y1) +
            " L " + fmt(x0 + r, y1) + " Q " + fmt(x0, y1) + " " + fmt(x0, y1 - r) +
            " L " + fmt(x0, y0 + r) + " Q " + fmt(x0, y0) + " " + fmt(x0 + r, y0) + " Z")
    return dict(type="path", path=path, xref="paper", yref="paper", fillcolor="rgba(255,255,255,0.8)",
                line=dict(color="rgba(200,200,200,0.9)", width=0.8), layer="above")


def marker_shape(sym, cx, cy, s, fill, edge):
    r = s / 2.0
    line = dict(color=edge, width=0.5)
    if sym == "circle":
        return dict(type="circle", xref="paper", yref="paper", x0=px(cx - r), x1=px(cx + r),
                    y0=py(cy + r), y1=py(cy - r), fillcolor=fill, line=line, layer="above")
    if sym == "square":
        return dict(type="rect", xref="paper", yref="paper", x0=px(cx - r), x1=px(cx + r),
                    y0=py(cy + r), y1=py(cy - r), fillcolor=fill, line=line, layer="above")
    if sym == "triangle-up":
        pts = [(cx, cy - r), (cx + r, cy + r * 0.8), (cx - r, cy + r * 0.8)]
    elif sym == "triangle-down":
        pts = [(cx, cy + r), (cx + r, cy - r * 0.8), (cx - r, cy - r * 0.8)]
    else:
        t = r / 3.0
        pts = [(cx - t, cy - r), (cx + t, cy - r), (cx + t, cy - t), (cx + r, cy - t), (cx + r, cy + t),
               (cx + t, cy + t), (cx + t, cy + r), (cx - t, cy + r), (cx - t, cy + t), (cx - r, cy + t),
               (cx - r, cy - t), (cx - t, cy - t)]
    path = "M " + " L ".join(fmt(x, y) for x, y in pts) + " Z"
    return dict(type="path", path=path, xref="paper", yref="paper", fillcolor=fill, line=line, layer="above")


def legend_block(entries, box, y_first, dy, lx0, lx1, tx):
    shapes.append(rounded_box(*box))
    for i, (name, st) in enumerate(entries):
        y = y_first + i * dy
        shapes.append(dict(type="line", xref="paper", yref="paper", x0=px(lx0), x1=px(lx1), y0=py(y), y1=py(y),
                           line=dict(color=st["color"], width=st["width"], dash=DASH[st["dash"]]), layer="above"))
        shapes.append(marker_shape(st["symbol"], (lx0 + lx1) / 2, y, max(st["msize"], 2.5), st["mcolor"], st["medge"]))
        text(name, tx, y, 6.4, color="#262626", xanchor="left")


legend_block([(n, st) for n, _, st in series_a], (36.7, 13.3, 138.3, 120), 19, 10.48, 38.5, 55, 59.3)
legend_block([(n, STYLE_BC[n]) for n, _ in series_b], (666, 75.3, 767.3, 172.3), 81.7, 10.4, 668.3, 683.3, 687.7)
legend_block([(n, STYLE_BC[n]) for n, _ in series_c], (825.7, 15.7, 928.3, 111.7), 21.7, 10.5, 827.7, 843.3, 848.3)

layout["shapes"] = shapes
layout["annotations"] = annotations
fig.update_layout(**layout)

fig.write_html("out.html", config={"displayModeBar": False, "staticPlot": True},
               post_script="document.body.style.margin='0px';document.body.style.overflow='hidden';")
